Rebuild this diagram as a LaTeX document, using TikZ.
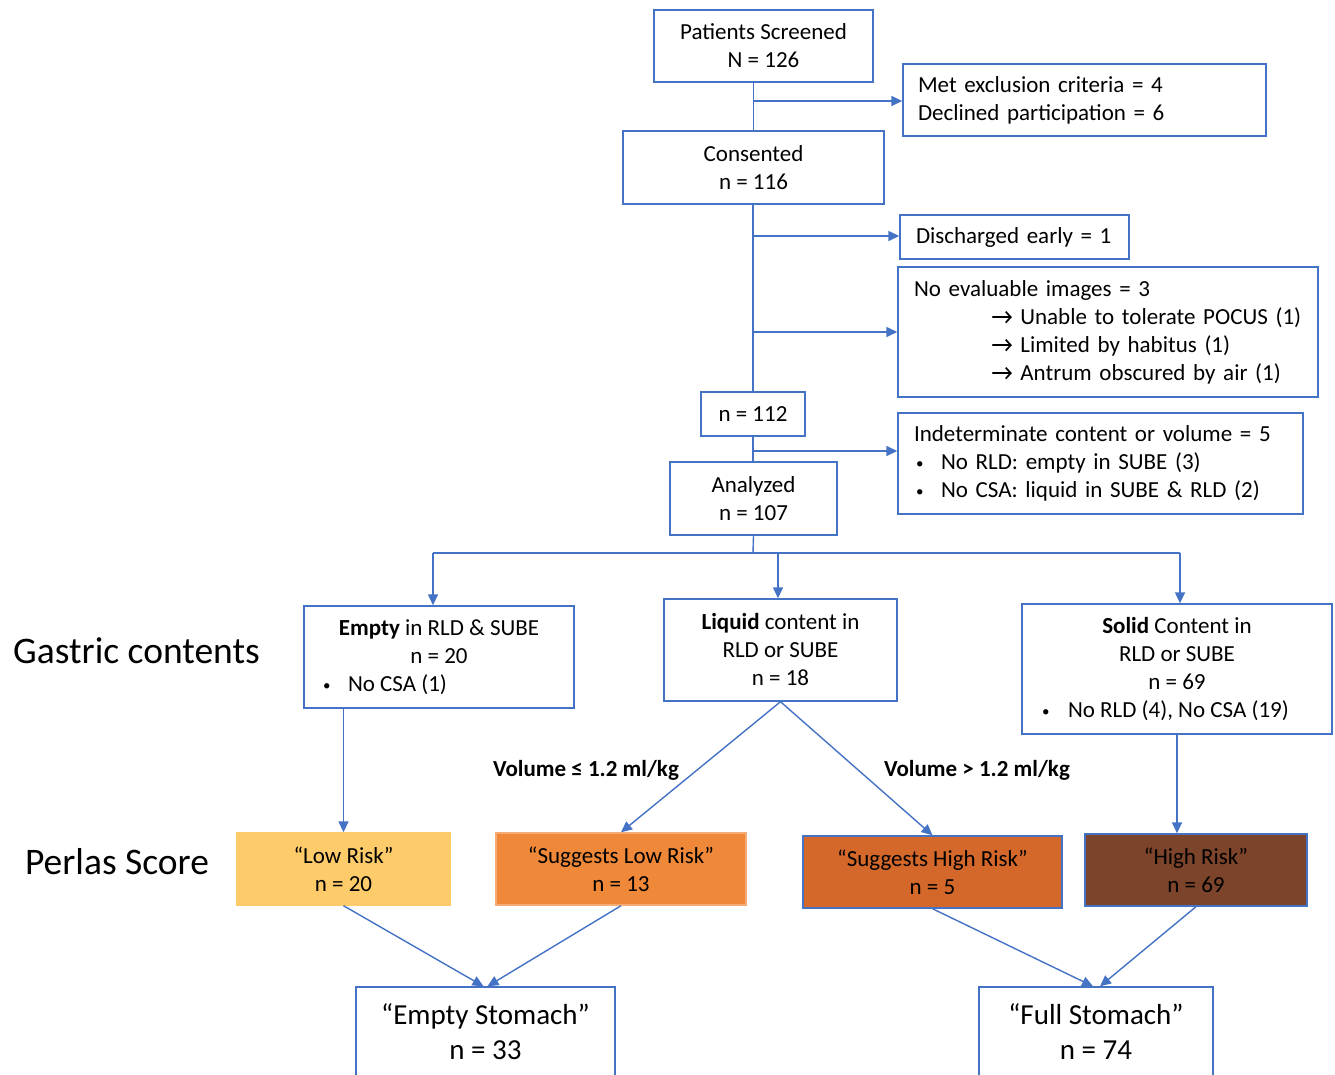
\documentclass[tikz,border=0pt]{standalone}
\usepackage{fontspec}
\setmainfont{Carlito}
\usetikzlibrary{arrows.meta,calc}
\definecolor{lineblue}{HTML}{4472C4}
\definecolor{lowfill}{HTML}{FECB6A}
\definecolor{suglowfill}{HTML}{EF8838}
\definecolor{sughighfill}{HTML}{D4682A}
\definecolor{highfill}{HTML}{7C442A}
\newcommand{\boxfont}{\fontsize{23}{28}\selectfont}
\newcommand{\bigfont}{\fontsize{29}{35}\selectfont}
\newcommand{\hugefont}{\fontsize{37.5}{44}\selectfont}
\newcommand{\bul}{{\fontsize{15}{28}\selectfont\raisebox{1pt}{•}}}
\newcommand{\inarrow}{\tikz[x=1pt,y=1pt,baseline=-7pt]{\draw[line width=1.7pt, line cap=round, -{Straight Barb[length=5pt,width=11pt,line width=1.7pt]}] (0,0) -- (19,0);}}
\begin{document}
\begin{tikzpicture}[x=1pt,y=-1pt,
  box/.style={draw=lineblue, line width=1.4pt, fill=white, inner sep=0pt, align=center, font=\boxfont},
  lbox/.style={box, align=left},
  conn/.style={draw=lineblue, line width=1.4pt},
  arr/.style={conn, -{Triangle[length=11pt,width=10pt]}},
  risk/.style={box, text=black}]
\useasboundingbox (0,0) rectangle (1335,1074);
\clip (0,0) rectangle (1335,1074);

% top chain
\node[box, minimum width=219pt, minimum height=72pt] (scr) at (763.5,46) {Patients Screened\\N = 126};
\node[box, minimum width=261pt, minimum height=73pt] (cons) at (753.5,167.5) {Consented\\n = 116};
\node[box, minimum width=104pt, minimum height=44pt] (n112) at (753,414) {n = 112};
\node[box, minimum width=167pt, minimum height=73pt] (ana) at (753.5,498.5) {Analyzed\\n = 107};

% exclusion boxes
\node[lbox, text width=363pt, minimum height=72pt] (excl) at (1084.5,100)
  {\hspace*{15pt}Met exclusion criteria = 4\\\hspace*{15pt}Declined participation = 6};
\node[lbox, text width=229pt, minimum height=44pt] (disc) at (1014.5,237)
  {\hspace*{16pt}Discharged early = 1};
\node[lbox, text width=420pt, minimum height=130pt] (noev) at (1108,332)
  {\hspace*{16pt}No evaluable images = 3\\
   \hspace*{94pt}\inarrow\ Unable to tolerate POCUS (1)\\
   \hspace*{94pt}\inarrow\ Limited by habitus (1)\\
   \hspace*{94pt}\inarrow\ Antrum obscured by air (1)};
\node[lbox, text width=405pt, minimum height=101pt] (indet) at (1100.5,463.5)
  {\hspace*{16pt}Indeterminate content or volume = 5\\
   \hspace*{18pt}\makebox[25pt][l]{\bul}No RLD: empty in SUBE (3)\\
   \hspace*{18pt}\makebox[25pt][l]{\bul}No CSA: liquid in SUBE \& RLD (2)};

% connectors of the top chain
\coordinate (b1) at (753,101);
\coordinate (b2) at (753,236);
\coordinate (b3) at (753,332);
\coordinate (b4) at (753,451);
\draw[conn] (scr.south -| cons.north) -- (cons.north);
\draw[conn] (cons.south -| n112.north) -- (n112.north);
\draw[conn] (n112.south) -- (ana.north -| n112.south);
\draw[arr] (b1) -- (b1 -| excl.west);
\draw[arr] (b2) -- (b2 -| disc.west);
\draw[arr] (b3) -- (b3 -| noev.west);
\draw[arr] (b4) -- (b4 -| indet.west);

% gastric contents
\node[font=\hugefont, inner sep=0pt] (gc) at (136.5,651) {Gastric contents};
\node[box, minimum width=270pt, minimum height=102pt] (empty) at (439,657)
  {\textbf{Empty} in RLD \& SUBE\\n = 20\\\makebox[232pt][l]{\makebox[25pt][l]{\bul}No CSA (1)}};
\node[box, minimum width=233pt, minimum height=102pt] (liq) at (780.5,650)
  {\textbf{Liquid} content in\\RLD or SUBE\\n = 18};
\node[box, minimum width=310pt, minimum height=130pt] (sol) at (1177,669)
  {\textbf{Solid} Content in\\RLD or SUBE\\n = 69\\\makebox[270pt][l]{\makebox[26pt][l]{\bul}No RLD (4), No CSA (19)}};

\coordinate (split) at (753,553);
\coordinate (sl) at (433,553);
\coordinate (sm) at (778,553);
\coordinate (sr) at (1180,553);
\draw[conn] (ana.south) -- (split);
\draw[conn] (sl) -- (sr);
\draw[arr] (sl) -- (sl |- empty.north);
\draw[arr] (sm) -- (sm |- liq.north);
\draw[arr] (sr) -- (sr |- sol.north);

% Perlas score
\node[font=\hugefont, inner sep=0pt] (ps) at (117,862) {Perlas Score};
\node[risk, fill=lowfill, draw=lowfill, minimum width=213pt, minimum height=72pt] (low) at (343.5,869)
  {“Low Risk”\\n = 20};
\node[risk, fill=suglowfill, draw=suglowfill!70!white, minimum width=250pt, minimum height=72pt] (suglow) at (621,869)
  {“Suggests Low Risk”\\n = 13};
\node[risk, fill=sughighfill, minimum width=259pt, minimum height=72pt] (sughigh) at (932.5,872)
  {“Suggests High Risk”\\n = 5};
\node[risk, fill=highfill, minimum width=222pt, minimum height=72pt] (high) at (1196,870)
  {“High Risk”\\n = 69};

\draw[arr] (low.north |- empty.south) -- (low.north);
\draw[arr] (liq.south) -- (suglow.north);
\draw[arr] (liq.south) -- (sughigh.north);
\draw[arr] (sol.south) -- (sol.south |- high.north);

\node[font=\boxfont\bfseries, inner sep=0pt] (vle) at (586,770) {Volume ≤ 1.2 ml/kg};
\node[font=\boxfont\bfseries, inner sep=0pt] (vgt) at (977,770) {Volume > 1.2 ml/kg};

% outcome
\node[box, font=\bigfont, minimum width=259pt, minimum height=90pt] (es) at (485.5,1032)
  {“Empty Stomach”\\n = 33};
\node[box, font=\bigfont, minimum width=234pt, minimum height=90pt] (fs) at (1096,1032)
  {“Full Stomach”\\n = 74};

\draw[arr] (low.south) -- ($(es.north)+(-2,0)$);
\draw[arr] (suglow.south) -- ($(es.north)+(2,0)$);
\draw[arr] (sughigh.south) -- ($(fs.north)+(-3,0)$);
\draw[arr] (high.south) -- ($(fs.north)+(4,0)$);
\end{tikzpicture}
\end{document}
